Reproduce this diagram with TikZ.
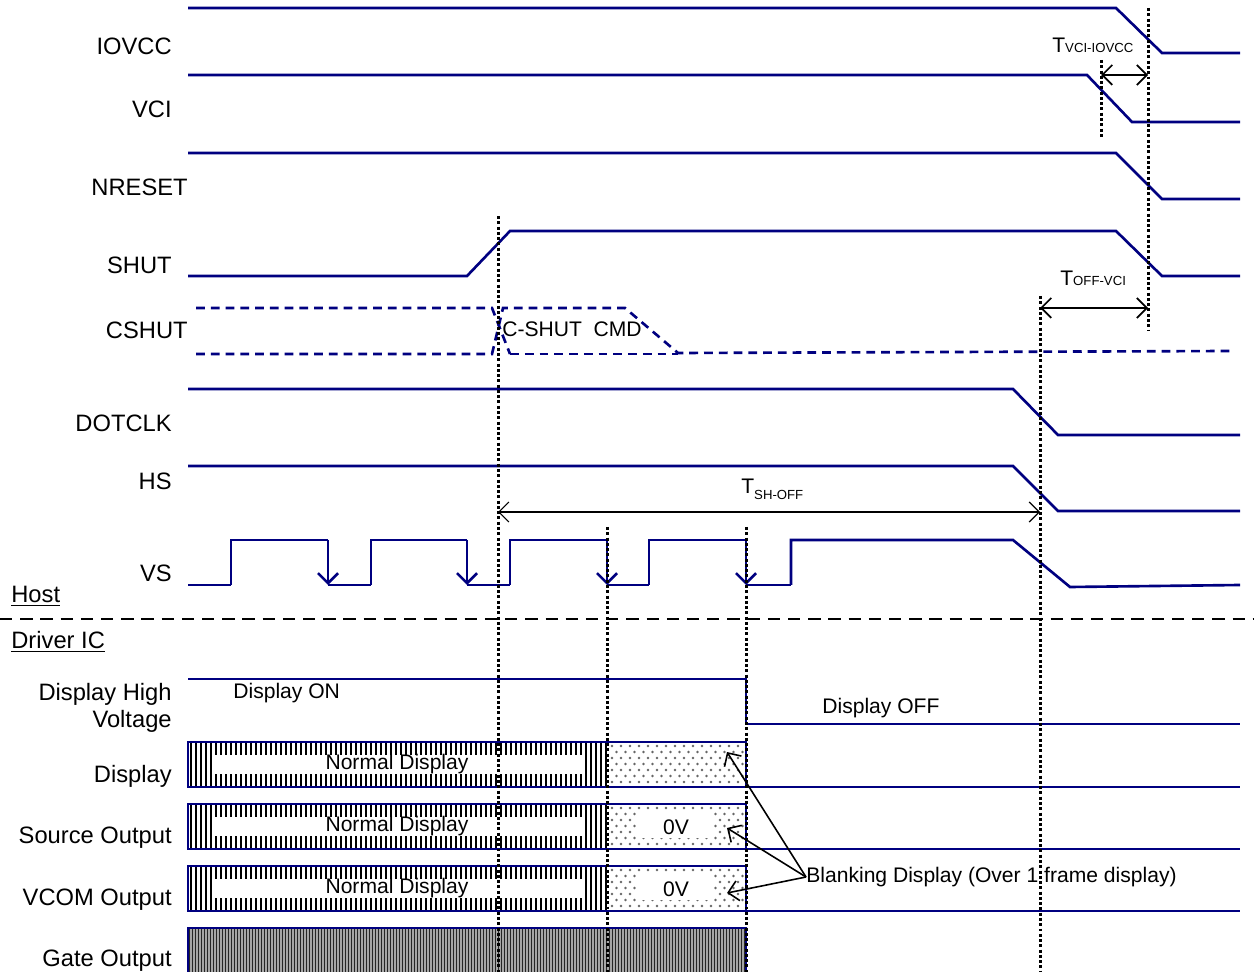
\documentclass[tikz,border=0pt]{standalone}
\usepackage{fontspec}
\setmainfont{Liberation Sans}
\usepackage{xcolor}
\usepackage{tikz}
\usetikzlibrary{arrows.meta}
\definecolor{navy}{RGB}{0,0,128}
\newcommand{\tlbl}[2]{{\fontsize{12}{14}\selectfont T}\raisebox{#2}{\fontsize{7.5}{9}\selectfont #1}}
\tikzset{
  sig/.style={draw=navy, line width=1.5pt},
  csig/.style={sig, dash pattern=on 5pt off 3.4pt},
  guide/.style={draw=black, line width=1.7pt, dash pattern=on 1.7pt off 1.3pt},
  dim/.style={{Straight Barb[length=2mm]}-{Straight Barb[length=2mm]}, line width=1pt},
  down/.style={sig, -{Straight Barb[length=2mm]}},
  lbl/.style={anchor=east, font=\fontsize{13.5}{15.5}\selectfont, inner sep=0pt, align=right},
  note/.style={font=\fontsize{12}{14}\selectfont, inner sep=0pt}}
\begin{document}
\begin{tikzpicture}[x=0.02cm, y=-0.02cm]
  \useasboundingbox (0,0) rectangle (1254,972);
  % signal names
  \node[lbl] (iovcc) at (172,46) {IOVCC};
  \node[lbl] (vci) at (172,109) {VCI};
  \node[lbl] (nreset) at (188,187) {NRESET};
  \node[lbl] (shut) at (172,265) {SHUT};
  \node[lbl] (cshut) at (188,330) {CSHUT};
  \node[lbl] (dotclk) at (172,423) {DOTCLK};
  \node[lbl] (hs) at (172,481) {HS};
  \node[lbl] (vs) at (172,573) {VS};
  \node[lbl] (dhv) at (172,708) {Display High\\Voltage};
  \node[lbl] (disp) at (172,776) {Display};
  \node[lbl] (src) at (172,838) {Source Output};
  \node[lbl] (vcom) at (172,900) {VCOM Output};
  \node[lbl] (gate) at (172,961) {Gate Output};
  \node[lbl, anchor=west] (host) at (11,596) {\underline{Host}};
  \node[lbl, anchor=west] (drv) at (11,642) {\underline{Driver IC}};

  % host side
  \draw[sig] (188,8) -- (1116,8) -- (1162,53) -- (1240,53);
  \draw[sig] (188,75) -- (1087,75) -- (1132,122) -- (1240,122);
  \draw[sig] (188,153) -- (1116,153) -- (1162,199) -- (1240,199);
  \draw[sig] (188,276) -- (467,276) -- (510,231) -- (1116,231) -- (1162,276) -- (1240,276);
  \draw[csig] (196,308) -- (492,308) -- (510,354);
  \draw[csig] (196,354) -- (492,354) -- (503,308) -- (625,308) -- (678,353) -- (1230,351);
  \draw[csig] (510,354) -- (678,354);
  \node[note] (cmd) at (572,329) {C-SHUT\ \ CMD};
  \draw[sig] (188,389) -- (1013,389) -- (1058,435) -- (1240,435);
  \draw[sig] (188,466) -- (1013,466) -- (1058,511) -- (1240,511);
  \draw[sig] (188,585) -- (231,585) (328,585) -- (371,585) (467,585) -- (510,585)
    (607,585) -- (649,585) (746,585) -- (791,585);
  \foreach \a/\b in {231/328, 371/467, 510/607, 649/746} {
    \draw[sig] (\a,585) -- (\a,540) -- (\b,540);
    \draw[down] (\b,540) -- (\b,585);
  }
  \draw[sig] (791,585) -- (791,540) -- (1013,540) -- (1070,587) -- (1240,585);

  % host / driver IC border
  \draw[black, line width=1.4pt, dash pattern=on 7pt off 4.5pt] (0,619) -- (1254,619);

  % driver IC side
  \draw[sig] (188,679) -- (746,679) -- (746,724) -- (1240,724);
  \node[note, anchor=west] (don) at (233,693) {Display ON};
  \node[note, anchor=west] (doff) at (822,708) {Display OFF};
  \foreach \y in {742,804,866} {
    \fill[white] (188,\y) rectangle (746,\y+45);
    \foreach \x in {191,196,...,606}
      \draw[black, line width=1.5pt] (\x,\y) -- (\x,\y+45);
    \fill[white] (212,\y+13) rectangle (584,\y+32);
    \foreach \i in {0,...,14}
      \foreach \j in {0,...,6}
        \fill[black!60] ({612+9*\i+4.5*mod(\j,2)},\y+4+6*\j) circle[radius=0.75pt];
    \draw[sig] (188,\y) rectangle (746,\y+45);
    \draw[sig] (746,\y+45) -- (1240,\y+45);
    \node[note] at (397,\y+22) {Normal Display};
  }
  \foreach \y in {804,866} {
    \fill[white] (636,\y+7) rectangle (713,\y+34);
    \node[note] at (676,\y+23) {0V};
  }
  \fill[white] (188,928) rectangle (746,980);
  \foreach \x in {189.5,192.5,...,745} {
    \draw[black!85, line width=0.55pt] (\x,928) -- (\x,980);
    \draw[black!35, line width=0.6pt] (\x+1.5,928) -- (\x+1.5,980);
  }
  \draw[sig] (188,980) -- (188,928) -- (746,928) -- (746,980);

  % timing guides
  \draw[guide] (498,216) -- (498,972);
  \draw[guide] (607,527) -- (607,972);
  \draw[guide] (746,527) -- (746,972);
  \draw[guide] (1040,296) -- (1040,972);
  \draw[guide] (1148,8) -- (1148,330);
  \draw[guide] (1101,60) -- (1101,138);

  % timings
  \coordinate (tv1) at (1101,75);
  \coordinate (tv2) at (1148,75);
  \draw[dim] (tv1) -- (tv2);
  \node[anchor=base west, inner sep=0pt] (tvlbl) at (1052,53) {\tlbl{VCI-IOVCC}{0pt}};
  \coordinate (to1) at (1040,308);
  \coordinate (to2) at (1148,308);
  \draw[dim] (to1) -- (to2);
  \node[anchor=base west, inner sep=0pt] (tolbl) at (1060,286) {\tlbl{OFF-VCI}{0pt}};
  \coordinate (ts1) at (498,512);
  \coordinate (ts2) at (1040,512);
  \draw[dim, line width=0.7pt] (ts1) -- (ts2);
  \node[anchor=base west, inner sep=0pt] (tslbl) at (741,494) {\tlbl{SH-OFF}{-3pt}};

  % blanking note
  \node[note, anchor=west] (blank) at (806,877) {Blanking Display (Over 1 frame display)};
  \coordinate (bk1) at (727,752);
  \coordinate (bk2) at (727,828);
  \coordinate (bk3) at (727,893);
  \foreach \t in {bk1,bk2,bk3}
    \draw[-{Straight Barb[length=2mm]}, line width=0.9pt] (blank.west) -- (\t);
\end{tikzpicture}
\end{document}
